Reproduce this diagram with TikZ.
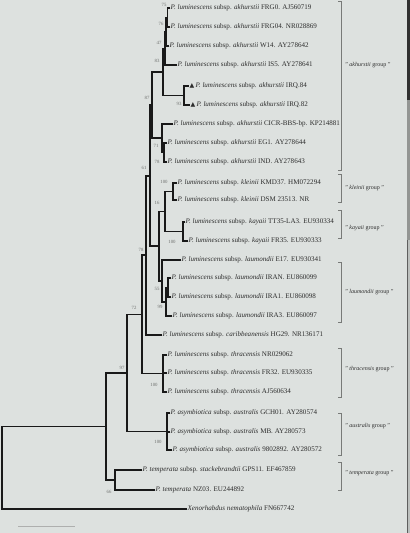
\documentclass[tikz,border=0pt]{standalone}
\usepackage{fontspec}
\setmainfont{Liberation Serif}
\newfontfamily\symfont{DejaVu Sans}
\definecolor{bgc}{RGB}{221,225,223}
\definecolor{inkc}{RGB}{25,25,25}
\definecolor{txtc}{RGB}{45,45,45}
\definecolor{bsc}{RGB}{110,112,110}
\definecolor{brk}{RGB}{120,122,120}
\newcommand{\Pl}{\textit{P. luminescens} subsp.}
\newcommand{\tri}{{\symfont\fontsize{4.6}{5}\selectfont ▲}}
\tikzset{
  br/.style={draw=inkc,line width=1.3pt,line join=miter},
  leaf/.style={anchor=west,inner sep=0.3pt,text=txtc,font=\fontsize{5.3}{6}\selectfont},
  bs/.style={inner sep=0pt,text=bsc,font=\fontsize{3.6}{4}\selectfont},
  grp/.style={anchor=west,inner sep=0pt,text=txtc,font=\fontsize{4.5}{5}\selectfont},
  brack/.style={draw=brk,line width=0.45pt}
}
\begin{document}
\begin{tikzpicture}[x=0.75pt,y=-0.75pt]
\useasboundingbox (0,0) rectangle (410,533);
\fill[bgc] (0,0) rectangle (410,533);
% page edge at right
\fill[inkc!90] (406.5,0) rectangle (410,100);
\fill[brk!80] (406.5,100) rectangle (410,240);
\fill[bgc!85!black] (407.5,240) rectangle (410,533);
\draw[inkc!70,line width=0.6pt] (407,240) -- (407,533);
% leaves
\node[leaf] (L1) at (170,8) {\Pl{} \textit{akhurstii} FRG0. AJ560719};
\node[leaf] (L2) at (170,27) {\Pl{} \textit{akhurstii} FRG04. NR028869};
\node[leaf] (L3) at (169,46) {\Pl{} \textit{akhurstii} W14. AY278642};
\node[leaf] (L4) at (177,65) {\Pl{} \textit{akhurstii} IS5. AY278641};
\node[leaf] (L5) at (189,86) {\tri\,\Pl{} \textit{akhurstii} IRQ.84};
\node[leaf] (L6) at (190,105) {\tri\,\Pl{} \textit{akhurstii} IRQ.82};
\node[leaf] (L7) at (173,124) {\Pl{} \textit{akhurstii} CICR-BBS-bp. KP214881};
\node[leaf] (L8) at (167,143) {\Pl{} \textit{akhurstii} EG1. AY278644};
\node[leaf] (L9) at (167,162) {\Pl{} \textit{akhurstii} IND. AY278643};
\node[leaf] (L10) at (177,183) {\Pl{} \textit{kleinii} KMD37. HM072294};
\node[leaf] (L11) at (177,200) {\Pl{} \textit{kleinii} DSM 23513. NR};
\node[leaf] (L12) at (185,222) {\Pl{} \textit{kayaii} TT35-LA3. EU930334};
\node[leaf] (L13) at (188,241) {\Pl{} \textit{kayaii} FR35. EU930333};
\node[leaf] (L14) at (181,260) {\Pl{} \textit{laumondii} E17. EU930341};
\node[leaf] (L15) at (171,278) {\Pl{} \textit{laumondii} IRAN. EU860099};
\node[leaf] (L16) at (171,297) {\Pl{} \textit{laumondii} IRA1. EU860098};
\node[leaf] (L17) at (172,316) {\Pl{} \textit{laumondii} IRA3. EU860097};
\node[leaf] (L18) at (162,335) {\Pl{} \textit{caribbeanensis} HG29. NR136171};
\node[leaf] (L19) at (167,355) {\Pl{} \textit{thracensis} NR029062};
\node[leaf] (L20) at (167,373) {\Pl{} \textit{thracensis} FR32. EU930335};
\node[leaf] (L21) at (167,392) {\Pl{} \textit{thracensis} AJ560634};
\node[leaf] (L22) at (170,413) {\textit{P. asymbiotica} subsp. \textit{australis} GCH01. AY280574};
\node[leaf] (L23) at (170,432) {\textit{P. asymbiotica} subsp. \textit{australis} MB. AY280573};
\node[leaf] (L24) at (172,450) {\textit{P. asymbiotica} subsp. \textit{australis} 9802892. AY280572};
\node[leaf] (L25) at (142,470) {\textit{P. temperata} subsp. \textit{stackebrandtii} GPS11. EF467859};
\node[leaf] (L26) at (155,490) {\textit{P. temperata} NZ03. EU244892};
\node[leaf] (L27) at (187,509) {\textit{Xenorhabdus nematophila} FN667742};
% internal nodes
\coordinate (n12) at (167.5,17.5);
\coordinate (n123) at (166,31.75);
\coordinate (n1234) at (165,48.4);
\coordinate (nQ) at (184,95.5);
\coordinate (akB) at (163,71.95);
\coordinate (nEI) at (164,152.5);
\coordinate (akC) at (162,138.25);
\coordinate (akA) at (152,105.1);
\coordinate (nK) at (173,191.5);
\coordinate (nY) at (183,231.5);
\coordinate (nF) at (165,211.5);
\coordinate (nIA) at (168,287.5);
\coordinate (nH) at (166,301.75);
\coordinate (nG) at (162,280.9);
\coordinate (nE) at (159,246.2);
\coordinate (nD) at (150,175.65);
\coordinate (nC) at (146,255.3);
\coordinate (nTH) at (163,373.5);
\coordinate (nB) at (142,314.4);
\coordinate (nAU) at (167,431.5);
\coordinate (nA) at (127,372.95);
\coordinate (nT) at (115,480);
\coordinate (nI) at (106,426.5);
\coordinate (nR) at (2,467.75);
% branches
\draw[br] (n12) |- (L1.west); \draw[br] (n12) |- (L2.west);
\draw[br] (n123) |- (n12); \draw[br] (n123) |- (L3.west);
\draw[br] (n1234) |- (n123); \draw[br] (n1234) |- (L4.west);
\draw[br] (nQ) |- (L5.west); \draw[br] (nQ) |- (L6.west);
\draw[br] (akB) |- (n1234); \draw[br] (akB) |- (nQ);
\draw[br] (nEI) |- (L8.west); \draw[br] (nEI) |- (L9.west);
\draw[br] (akC) |- (L7.west); \draw[br] (akC) |- (nEI);
\draw[br] (akA) |- (akB); \draw[br] (akA) |- (akC);
\draw[br] (nK) |- (L10.west); \draw[br] (nK) |- (L11.west);
\draw[br] (nY) |- (L12.west); \draw[br] (nY) |- (L13.west);
\draw[br] (nF) |- (nK); \draw[br] (nF) |- (nY);
\draw[br] (nIA) |- (L15.west); \draw[br] (nIA) |- (L16.west);
\draw[br] (nH) |- (nIA); \draw[br] (nH) |- (L17.west);
\draw[br] (nG) |- (L14.west); \draw[br] (nG) |- (nH);
\draw[br] (nE) |- (nF); \draw[br] (nE) |- (nG);
\draw[br] (nD) |- (akA); \draw[br] (nD) |- (nE);
\draw[br] (nC) |- (nD); \draw[br] (nC) |- (L18.west);
\draw[br] (nTH) |- (L19.west); \draw[br] (nTH) |- (L20.west); \draw[br] (nTH) |- (L21.west);
\draw[br] (nB) |- (nC); \draw[br] (nB) |- (nTH);
\draw[br] (nAU) |- (L22.west); \draw[br] (nAU) |- (L23.west); \draw[br] (nAU) |- (L24.west);
\draw[br] (nA) |- (nB); \draw[br] (nA) |- (nAU);
\draw[br] (nT) |- (L25.west); \draw[br] (nT) |- (L26.west);
\draw[br] (nI) |- (nA); \draw[br] (nI) |- (nT);
\draw[br] (nR) |- (nI); \draw[br] (nR) |- (L27.west);
% bootstrap values
\node[bs] (b1) at (164,5) {75};
\node[bs] (b2) at (161,24) {76};
\node[bs] (b3) at (159,43) {47};
\node[bs] (b4) at (157,61) {83};
\node[bs] (b5) at (179,104) {93};
\node[bs] (b6) at (147,98) {87};
\node[bs] (b7) at (156,146) {71};
\node[bs] (b8) at (157,162) {78};
\node[bs] (b9) at (144,168) {61};
\node[bs] (b10) at (164,182) {100};
\node[bs] (b11) at (157,203) {16};
\node[bs] (b12) at (172,242) {100};
\node[bs] (b13) at (141,250) {78};
\node[bs] (b14) at (157,289) {55};
\node[bs] (b15) at (160,307) {99};
\node[bs] (b16) at (134,308) {72};
\node[bs] (b17) at (122,368) {97};
\node[bs] (b18) at (154,385) {100};
\node[bs] (b19) at (158,442) {100};
\node[bs] (b20) at (109,492) {66};
% group brackets
\draw[brack] (338,1) -- (341,1) -- (341,170) -- (338,170);
\node[grp] (g1) at (345,65) {" \textit{akhurstii} group "};
\draw[brack] (338,174) -- (341,174) -- (341,202) -- (338,202);
\node[grp] (g2) at (345,188) {" \textit{kleinii} group "};
\draw[brack] (338,210) -- (341,210) -- (341,238) -- (338,238);
\node[grp] (g3) at (345,228) {" \textit{kayaii} group "};
\draw[brack] (338,262) -- (341,262) -- (341,322) -- (338,322);
\node[grp] (g4) at (345,292) {" \textit{laumondii} group "};
\draw[brack] (338,348) -- (341,348) -- (341,397) -- (338,397);
\node[grp] (g5) at (345,369) {" \textit{thracensis} group "};
\draw[brack] (338,413) -- (341,413) -- (341,455) -- (338,455);
\node[grp] (g6) at (345,426) {" \textit{australis} group "};
\draw[brack] (338,462) -- (341,462) -- (341,490) -- (338,490);
\node[grp] (g7) at (345,473) {" \textit{temperata} group "};
% scale bar
\draw[brk!60,line width=0.5pt] (18,526) -- (75,526);
\end{tikzpicture}
\end{document}
